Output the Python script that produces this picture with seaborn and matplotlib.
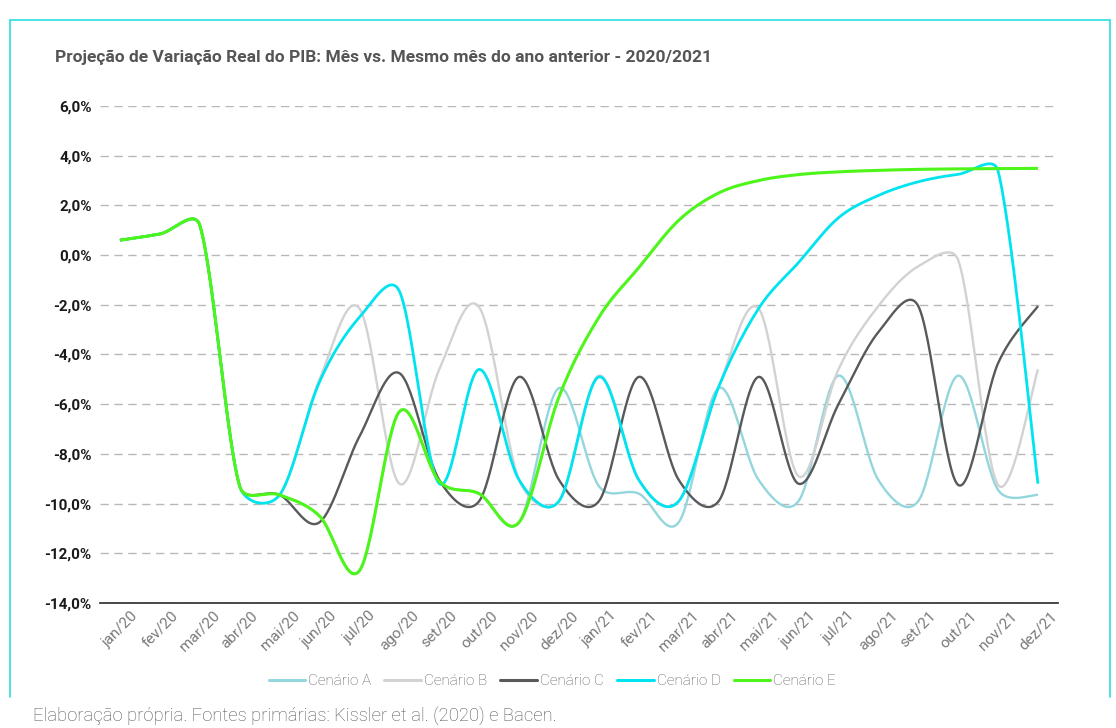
import numpy as np
import pandas as pd
import matplotlib
matplotlib.use("Agg")
import matplotlib.pyplot as plt
import seaborn as sns
from matplotlib.lines import Line2D

# Monthly year-on-year GDP growth projections (%)
months = ["jan/20", "fev/20", "mar/20", "abr/20", "mai/20", "jun/20",
          "jul/20", "ago/20", "set/20", "out/20", "nov/20", "dez/20",
          "jan/21", "fev/21", "mar/21", "abr/21", "mai/21", "jun/21",
          "jul/21", "ago/21", "set/21", "out/21", "nov/21", "dez/21"]

cenario_a = [0.6, 0.85, 1.2, -9.3, -9.65, -10.5, -12.7, -6.3, -9.1, -9.6, -10.75, -5.35,
             -9.3, -9.6, -10.75, -5.35, -9.05, -9.9, -4.85, -9.05, -9.9, -4.85, -9.45, -9.65]
cenario_b = [0.6, 0.85, 1.2, -9.3, -9.65, -5.0, -2.15, -9.2, -4.6, -2.1, -9.05, -9.9,
             -4.85, -9.05, -9.9, -5.3, -2.15, -8.9, -4.6, -2.05, -0.45, -0.2, -9.25, -4.6]
cenario_c = [0.6, 0.85, 1.2, -9.3, -9.65, -10.75, -7.3, -4.75, -9.05, -9.9, -4.9, -9.05,
             -9.9, -4.9, -9.05, -9.9, -4.9, -9.2, -6.0, -3.1, -2.05, -9.25, -4.35, -2.05]
cenario_d = [0.6, 0.85, 1.2, -9.3, -9.65, -5.1, -2.5, -1.45, -9.2, -4.6, -9.05, -9.9,
             -4.9, -9.05, -9.9, -5.3, -2.15, -0.3, 1.5, 2.4, 2.95, 3.25, 3.38, -9.2]
cenario_e = [0.6, 0.85, 1.2, -9.3, -9.65, -10.5, -12.7, -6.3, -9.1, -9.6, -10.75, -5.7,
             -2.5, -0.5, 1.4, 2.5, 3.0, 3.24, 3.35, 3.41, 3.45, 3.47, 3.48, 3.49]

series_names = ["Cenário A", "Cenário B", "Cenário C", "Cenário D", "Cenário E"]
series_values = [cenario_a, cenario_b, cenario_c, cenario_d, cenario_e]
series_colors = ["#94D6DD", "#D2D2D2", "#58595B", "#00E4F0", "#4DF51A"]
series_widths = [1.7, 1.7, 1.7, 2.0, 2.2]

y_ticks = [-14, -12, -10, -8, -6, -4, -2, 0, 2, 4, 6]
y_tick_labels = ["-14,0%", "-12,0%", "-10,0%", "-8,0%", "-6,0%", "-4,0%",
                 "-2,0%", "0,0%", "2,0%", "4,0%", "6,0%"]

title = "Projeção de Variação Real do PIB: Mês vs. Mesmo mês do ano anterior - 2020/2021"
source = "Elaboração própria. Fontes primárias: Kissler et al. (2020) e Bacen."

sns.set_theme(style="white")
plt.rcParams["font.family"] = ["Roboto", "DejaVu Sans"]

fig = plt.figure(figsize=(11.16, 7.28), dpi=100)
ax = fig.add_axes([0.0896, 0.1717, 0.8584, 0.6827])
ax.set_xlim(-0.5, 23.5)
ax.set_ylim(-14, 6)


def smooth_curve(axis, xs, ys, steps=30, arm_limit=0.45):
    """Spreadsheet-style smoothed line: cubic Bezier segments built in display space,
    with control arms capped relative to the segment length."""
    pts = axis.transData.transform(np.column_stack([xs, ys]))
    n = len(pts)
    t = np.linspace(0, 1, steps + 1)[1:, None]
    out = [pts[0]]
    for i in range(n - 1):
        p0 = pts[max(i - 1, 0)]
        p1 = pts[i]
        p2 = pts[i + 1]
        p3 = pts[min(i + 2, n - 1)]
        d02 = np.hypot(*(p2 - p0))
        d12 = np.hypot(*(p2 - p1))
        d13 = np.hypot(*(p3 - p1))
        f1 = 1 / 6 if d02 / 6 < d12 * arm_limit else d12 * arm_limit / d02
        f2 = 1 / 6 if d13 / 6 < d12 * arm_limit else d12 * arm_limit / d13
        c1 = p1 + f1 * (p2 - p0)
        c2 = p2 - f2 * (p3 - p1)
        seg = ((1 - t) ** 3) * p1 + 3 * ((1 - t) ** 2) * t * c1 + 3 * (1 - t) * t ** 2 * c2 + t ** 3 * p2
        out.extend(seg)
    return axis.transData.inverted().transform(np.array(out))


x_idx = np.arange(len(months))
for name, vals, col, lw in zip(series_names, series_values, series_colors, series_widths):
    curve = smooth_curve(ax, x_idx, np.array(vals, dtype=float))
    df = pd.DataFrame({"x": curve[:, 0], "y": curve[:, 1]})
    sns.lineplot(data=df, x="x", y="y", ax=ax, color=col, linewidth=lw,
                 sort=False, estimator=None, legend=False,
                 solid_capstyle="butt", solid_joinstyle="round")

ax.set_xlabel("")
ax.set_ylabel("")
ax.set_xticks(x_idx)
ax.set_xticklabels(months, rotation=45, ha="center", va="top",
                   fontsize=11, color="#7a7a7a", fontweight="normal")
ax.set_yticks(y_ticks)
ax.set_yticklabels(y_tick_labels, fontsize=11, fontweight="bold", color="#1a1a1a")
ax.tick_params(axis="both", length=0)
ax.tick_params(axis="x", pad=4)
ax.tick_params(axis="y", pad=6)

ax.yaxis.grid(True, linestyle=(0, (6, 4)), color="#b8b8b8", linewidth=1.0)
ax.xaxis.grid(False)
ax.set_axisbelow(True)
for side in ["left", "right", "top"]:
    ax.spines[side].set_visible(False)
ax.spines["bottom"].set_color("#3a3a3a")
ax.spines["bottom"].set_linewidth(1.3)
ax.set_facecolor("white")

handles = [Line2D([0], [0], color=c, linewidth=2.2) for c in series_colors]
fig.legend(handles, series_names, loc="center", bbox_to_anchor=(0.495, 0.0645),
           ncol=5, frameon=False, handlelength=2.4,
           handletextpad=0.2, columnspacing=0.85, labelcolor="#5a5a5a",
           prop={"weight": "light", "size": 11})

fig.text(0.0493, 0.9217, title, fontsize=12.5, fontweight="bold", color="#555555",
         ha="left", va="center")
fig.text(0.0296, 0.0165, source, fontsize=13.3, fontweight="light", color="#555555",
         ha="left", va="center")

# Cyan frame around the chart panel
frame_color = "#2BDDE8"
fig.add_artist(Line2D([0.00896, 0.9946], [0.9725, 0.9725], transform=fig.transFigure,
                      color=frame_color, linewidth=1.2))
fig.add_artist(Line2D([0.00896, 0.00896], [0.0426, 0.9725], transform=fig.transFigure,
                      color=frame_color, linewidth=1.2))
fig.add_artist(Line2D([0.9946, 0.9946], [0.0426, 0.9725], transform=fig.transFigure,
                      color=frame_color, linewidth=1.2))

fig.savefig("out.png", dpi=100, facecolor="white")
